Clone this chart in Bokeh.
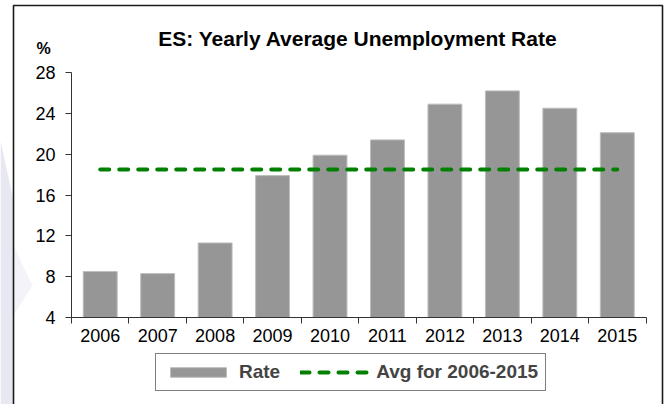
from bokeh.plotting import figure
from bokeh.models import (Range1d, FixedTicker, Legend, LegendItem, Label, LinearAxis)
from bokeh.embed import file_html
from bokeh.resources import INLINE

years = ["2006", "2007", "2008", "2009", "2010", "2011", "2012", "2013", "2014", "2015"]
rate = [8.5, 8.3, 11.3, 17.9, 19.9, 21.4, 24.9, 26.2, 24.5, 22.1]
avg_2006_2015 = 18.5
y_ticks = [4, 8, 12, 16, 20, 24, 28]
y_min, y_max = 4, 28

FONT = "Liberation Sans"

# ---- layout (pixels of the page) ----
W, H = 669, 404
PX_LEFT, PX_RIGHT = 71.0, 645.5     # x axis extent
PY_TOP, PY_BOTTOM = 72.0, 317.0     # y axis extent
n = len(years)
sx = (PX_RIGHT - PX_LEFT) / n
sy = (PY_BOTTOM - PY_TOP) / (y_max - y_min)

def px2x(px):
    return (px - PX_LEFT) / sx

def py2y(py):
    return y_min + (PY_BOTTOM - py) / sy

centers = [i + 0.5 for i in range(n)]
bounds = [float(i) for i in range(n + 1)]

p = figure(width=W, height=H, output_backend="svg", toolbar_location=None,
           x_range=Range1d(px2x(0), px2x(W)), y_range=Range1d(py2y(H), py2y(0)),
           min_border=0, x_axis_type=None, y_axis_type=None)
p.grid.visible = False
p.outline_line_color = None
p.background_fill_color = "white"
p.border_fill_color = "white"

# faint watermark on the left and the chart box
p.patch(x=[px2x(0), px2x(13), px2x(13), px2x(0)], y=[py2y(140), py2y(200), py2y(H), py2y(H)],
        fill_color="#e8e8f3", line_color=None)
p.patch(x=[px2x(13), px2x(32), px2x(13)], y=[py2y(245), py2y(285), py2y(315)],
        fill_color="#f3f3f9", line_color=None)
p.quad(left=[px2x(13)], right=[px2x(662)], top=[py2y(5)], bottom=[py2y(H + 10)],
       fill_color=None, line_color="#1a1a1a", line_width=1.6)

bars = p.vbar(x=centers, top=rate, bottom=y_min, width=0.59,
              fill_color="#969696", line_color="#bdbdbd", line_width=1)
avg_line = p.line(x=[centers[0], centers[-1]], y=[avg_2006_2015, avg_2006_2015],
                  line_color="#008000", line_width=4, line_dash="9 10", line_cap="round")

xaxis = LinearAxis(ticker=FixedTicker(ticks=centers, minor_ticks=bounds))
xaxis.fixed_location = y_min
xaxis.bounds = (0, n)
xaxis.major_label_overrides = {c: y for c, y in zip(centers, years)}
xaxis.major_tick_out = 0
xaxis.major_tick_in = 0
xaxis.minor_tick_out = 6
xaxis.minor_tick_in = 0
xaxis.minor_tick_line_color = "#333333"
xaxis.axis_line_color = "#333333"
xaxis.major_label_text_font = FONT
xaxis.major_label_text_font_size = "18px"
xaxis.major_label_text_color = "black"
xaxis.major_label_standoff = 5
p.add_layout(xaxis, "below")

yaxis = LinearAxis(ticker=FixedTicker(ticks=y_ticks))
yaxis.fixed_location = 0
yaxis.bounds = (y_min, y_max)
yaxis.major_tick_out = 6
yaxis.major_tick_in = 0
yaxis.minor_tick_out = 0
yaxis.major_tick_line_color = "#333333"
yaxis.axis_line_color = "#333333"
yaxis.major_label_text_font = FONT
yaxis.major_label_text_font_size = "18px"
yaxis.major_label_text_color = "black"
yaxis.major_label_standoff = 10
p.add_layout(yaxis, "left")

p.add_layout(Label(x=px2x(357.5), y=py2y(38), text="ES: Yearly Average Unemployment Rate",
                   text_align="center", text_baseline="alphabetic", text_font=FONT,
                   text_font_style="bold", text_font_size="21px", text_color="black"))
p.add_layout(Label(x=px2x(36), y=py2y(48), text="%", text_align="left",
                   text_baseline="alphabetic", text_font=FONT, text_font_style="bold",
                   text_font_size="16px", text_color="black"))

legend = Legend(items=[LegendItem(label="Rate", renderers=[bars]),
                       LegendItem(label="Avg for 2006-2015", renderers=[avg_line])],
                orientation="horizontal", location=(155, H - 391))
legend.border_line_color = "black"
legend.border_line_width = 1
legend.background_fill_color = "white"
legend.background_fill_alpha = 1
legend.label_text_font = FONT
legend.label_text_font_style = "bold"
legend.label_text_font_size = "19px"
legend.glyph_width = 70
legend.glyph_height = 12
legend.label_standoff = 6
legend.spacing = 20
legend.padding = 7
legend.margin = 0
p.add_layout(legend, "center")

open("out.html", "w").write(file_html(p, INLINE))
